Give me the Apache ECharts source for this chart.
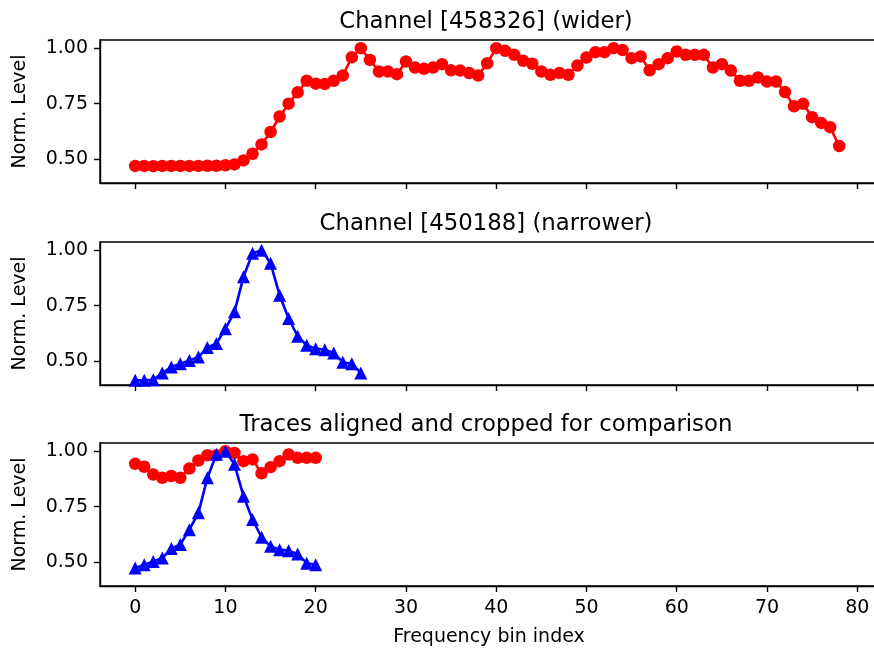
<!DOCTYPE html>
<html>
<head>
<meta charset="utf-8">
<script src="https://cdn.jsdelivr.net/npm/echarts@6/dist/echarts.min.js"></script>
<style>
  html, body { margin: 0; padding: 0; background: #fff; overflow: hidden; width: 874px; height: 650px; }
  /* canvas slightly wider than the window so the panels' right edges fall outside it */
  #chart { width: 884px; height: 650px; }
</style>
</head>
<body>
<div id="chart"></div>
<script>
// Normalized spectrum of the wider channel, one value per frequency bin (0..78)
const wideLevels = [
  0.469, 0.469, 0.468, 0.469, 0.469, 0.469, 0.469, 0.469, 0.470, 0.470,
  0.472, 0.476, 0.494, 0.524, 0.566, 0.622, 0.692, 0.750, 0.801, 0.853,
  0.840, 0.839, 0.853, 0.877, 0.959, 1.000, 0.947, 0.895, 0.895, 0.883,
  0.940, 0.913, 0.907, 0.913, 0.928, 0.900, 0.899, 0.888, 0.877, 0.932,
  1.000, 0.988, 0.970, 0.943, 0.930, 0.895, 0.880, 0.888, 0.880, 0.922,
  0.958, 0.982, 0.982, 1.000, 0.992, 0.955, 0.963, 0.900, 0.928, 0.955,
  0.985, 0.970, 0.970, 0.970, 0.913, 0.928, 0.899, 0.853, 0.853, 0.868,
  0.850, 0.850, 0.802, 0.738, 0.749, 0.689, 0.663, 0.644, 0.559
];

// Normalized spectrum of the narrower channel (bins 0..25)
const narrowLevels = [
  0.413, 0.413, 0.416, 0.446, 0.473, 0.488, 0.503, 0.518, 0.561, 0.579,
  0.646, 0.722, 0.880, 0.986, 1.000, 0.941, 0.797, 0.692, 0.612, 0.571,
  0.556, 0.551, 0.536, 0.495, 0.488, 0.446
];

// Alignment used for the comparison panel: both traces cropped to 21 bins
const wideCropStart = 43;
const narrowCropStart = 4;
const cropLength = 21;

const panelTitles = [
  'Channel [458326] (wider)',
  'Channel [450188] (narrower)',
  'Traces aligned and cropped for comparison'
];
const freqTicks = [0, 10, 20, 30, 40, 50, 60, 70, 80];
const levelTicks = [0.5, 0.75, 1.0];
const yAxisName = 'Norm. Level';
const xAxisName = 'Frequency bin index';

const toPairs = arr => arr.map((v, i) => [i, v]);
const wideCrop = wideLevels.slice(wideCropStart, wideCropStart + cropLength);
const narrowCrop = narrowLevels.slice(narrowCropStart, narrowCropStart + cropLength);

const FONT = 'DejaVu Sans';
const TICK_SIZE = 19;
const TITLE_SIZE = 22.8;
const gridTops = [40, 242, 443];
const gridHeight = 143;
const gridLeft = 100;
const gridWidth = 778;

const grids = gridTops.map(t => ({
  left: gridLeft, width: gridWidth, top: t, height: gridHeight,
  show: true, borderColor: '#000', borderWidth: 1.4,
  backgroundColor: 'transparent', containLabel: false
}));

const xAxes = gridTops.map((t, i) => ({
  type: 'value', gridIndex: i, min: -3.9, max: 82.3,
  name: i === 2 ? xAxisName : '',
  nameLocation: 'middle', nameGap: 42,
  nameTextStyle: { fontFamily: FONT, fontSize: TICK_SIZE, color: '#000' },
  axisLine: { show: true, onZero: false, lineStyle: { color: '#000', width: 1.4 } },
  axisTick: { show: true, inside: false, length: 6, customValues: freqTicks,
              lineStyle: { color: '#000', width: 1.4 } },
  axisLabel: { show: i === 2, customValues: freqTicks, margin: 13,
               fontFamily: FONT, fontSize: TICK_SIZE, color: '#000' },
  splitLine: { show: false }
}));

const yAxes = gridTops.map((t, i) => ({
  type: 'value', gridIndex: i, min: 0.392, max: 1.037,
  name: yAxisName, nameLocation: 'middle', nameGap: 70, nameRotate: 90,
  nameTextStyle: { fontFamily: FONT, fontSize: TICK_SIZE, color: '#000' },
  axisLine: { show: true, onZero: false, lineStyle: { color: '#000', width: 1.4 } },
  axisTick: { show: true, inside: false, length: 6, customValues: levelTicks,
              lineStyle: { color: '#000', width: 1.4 } },
  axisLabel: { show: true, customValues: levelTicks, margin: 12,
               fontFamily: FONT, fontSize: TICK_SIZE, color: '#000',
               formatter: v => Number(v).toFixed(2) },
  splitLine: { show: false }
}));

// Titles centred over each panel
const titles = panelTitles.map((txt, i) => ({
  text: txt, left: 486, top: gridTops[i] - 29, textAlign: 'center', padding: 0,
  textStyle: { fontFamily: FONT, fontSize: TITLE_SIZE, fontWeight: 'normal', color: '#000' }
}));

const redStyle = {
  type: 'line', symbol: 'circle', symbolSize: 12.5,
  itemStyle: { color: '#ff0000' },
  lineStyle: { color: '#ff0000', width: 2.6 },
  clip: true
};
const blueStyle = {
  type: 'line', symbol: 'triangle', symbolSize: 13,
  itemStyle: { color: '#0000ff' },
  lineStyle: { color: '#0000ff', width: 2.6 },
  clip: true
};

const series = [
  Object.assign({}, redStyle, { xAxisIndex: 0, yAxisIndex: 0, data: toPairs(wideLevels) }),
  Object.assign({}, blueStyle, { xAxisIndex: 1, yAxisIndex: 1, data: toPairs(narrowLevels) }),
  Object.assign({}, redStyle, { xAxisIndex: 2, yAxisIndex: 2, data: toPairs(wideCrop) }),
  Object.assign({}, blueStyle, { xAxisIndex: 2, yAxisIndex: 2, data: toPairs(narrowCrop) })
];

const chart = echarts.init(document.getElementById('chart'), null, { renderer: 'canvas' });
chart.setOption({
  animation: false,
  backgroundColor: '#fff',
  title: titles,
  grid: grids,
  xAxis: xAxes,
  yAxis: yAxes,
  series: series
});
</script>
</body>
</html>
